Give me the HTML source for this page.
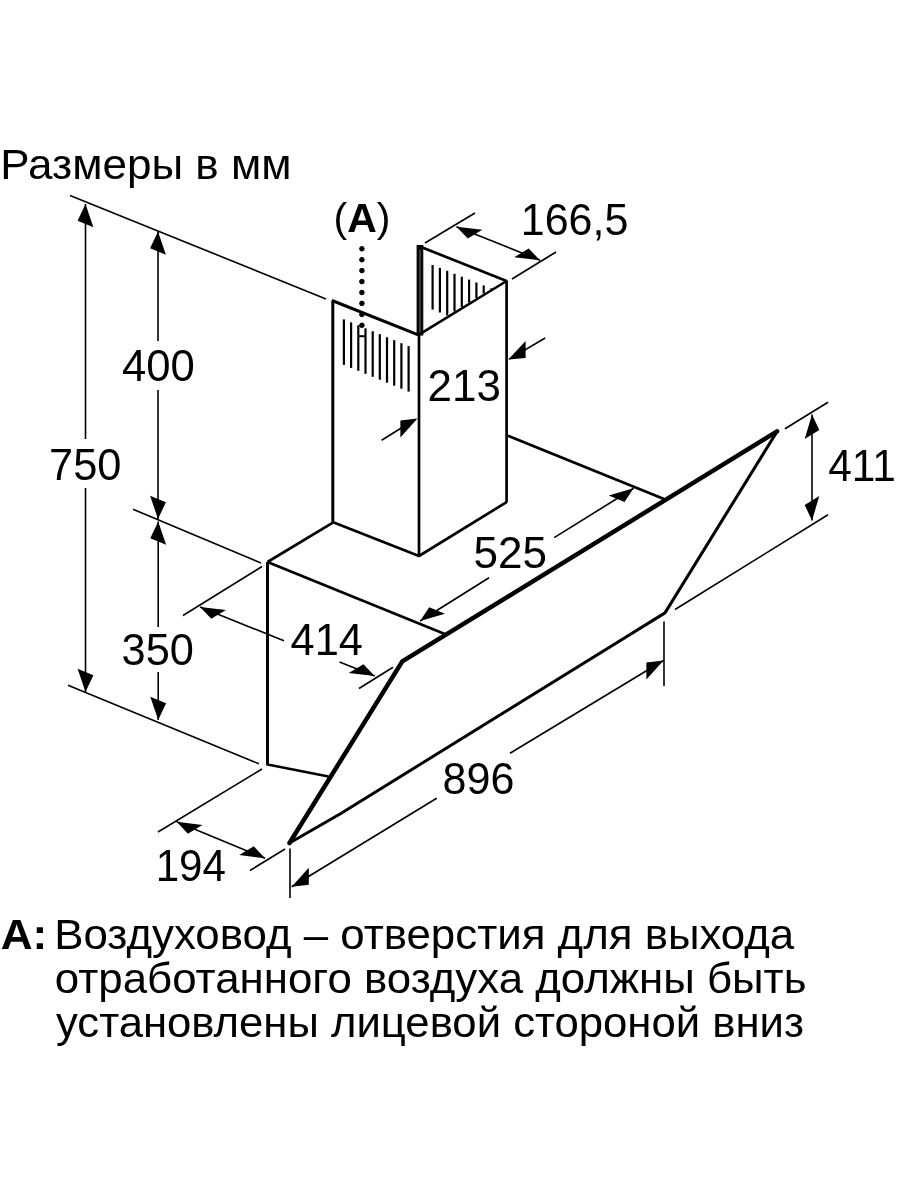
<!DOCTYPE html>
<html><head><meta charset="utf-8"><style>
html,body{margin:0;padding:0;background:#fff;width:900px;height:1200px;overflow:hidden}
svg{display:block;will-change:transform}
text{font-family:"Liberation Sans",sans-serif;fill:#000}
</style></head><body>
<svg width="900" height="1200" viewBox="0 0 900 1200">
<g stroke="#000" stroke-linecap="butt">
<line x1="70.0" y1="195.5" x2="326.0" y2="299.0" stroke-width="1.6" />
<line x1="133.0" y1="509.3" x2="261.0" y2="563.0" stroke-width="1.6" />
<line x1="68.0" y1="685.3" x2="259.0" y2="763.8" stroke-width="1.6" />
<line x1="183.0" y1="615.5" x2="262.0" y2="566.5" stroke-width="1.6" />
<line x1="359.0" y1="688.5" x2="393.0" y2="667.3" stroke-width="1.6" />
<line x1="158.0" y1="832.0" x2="262.0" y2="769.0" stroke-width="1.6" />
<line x1="250.0" y1="870.5" x2="285.0" y2="849.0" stroke-width="1.6" />
<line x1="290.0" y1="848.5" x2="290.0" y2="898.0" stroke-width="1.6" />
<line x1="664.0" y1="621.5" x2="664.0" y2="686.0" stroke-width="1.6" />
<line x1="785.0" y1="428.7" x2="828.0" y2="402.2" stroke-width="1.6" />
<line x1="675.0" y1="609.5" x2="828.0" y2="514.8" stroke-width="1.6" />
<line x1="425.0" y1="243.0" x2="475.0" y2="213.0" stroke-width="1.6" />
<line x1="512.0" y1="279.0" x2="556.0" y2="252.0" stroke-width="1.6" />
<line x1="85.5" y1="204.0" x2="85.5" y2="439.0" stroke-width="1.6" />
<line x1="85.5" y1="488.0" x2="85.5" y2="692.0" stroke-width="1.6" />
<polygon points="85.5,204.0 93.4,227.2 77.6,220.8" fill="#000" stroke="none"/>
<polygon points="85.5,692.0 93.4,675.2 77.6,668.8" fill="#000" stroke="none"/>
<line x1="158.0" y1="231.5" x2="158.0" y2="341.0" stroke-width="1.6" />
<line x1="158.0" y1="390.0" x2="158.0" y2="519.0" stroke-width="1.6" />
<polygon points="158.0,231.5 165.9,254.7 150.1,248.3" fill="#000" stroke="none"/>
<polygon points="158.0,519.0 165.9,502.2 150.1,495.8" fill="#000" stroke="none"/>
<line x1="158.2" y1="521.5" x2="158.2" y2="627.0" stroke-width="1.6" />
<line x1="158.2" y1="672.0" x2="158.2" y2="720.0" stroke-width="1.6" />
<polygon points="158.2,521.5 166.1,544.7 150.3,538.3" fill="#000" stroke="none"/>
<polygon points="158.2,720.0 166.1,703.2 150.3,696.8" fill="#000" stroke="none"/>
<line x1="812.0" y1="414.5" x2="812.0" y2="520.5" stroke-width="1.6" />
<polygon points="812.0,414.5 819.3,430.1 804.7,438.9" fill="#000" stroke="none"/>
<polygon points="812.0,520.5 819.3,496.1 804.7,504.9" fill="#000" stroke="none"/>
<line x1="200.0" y1="607.0" x2="284.0" y2="640.8" stroke-width="1.6" />
<line x1="339.5" y1="662.1" x2="374.7" y2="676.0" stroke-width="1.6" />
<polygon points="200.0,607.0 225.9,609.9 211.3,618.8" fill="#000" stroke="none"/>
<polygon points="374.7,676.0 363.4,664.2 348.8,673.1" fill="#000" stroke="none"/>
<line x1="176.7" y1="821.7" x2="265.0" y2="858.3" stroke-width="1.6" />
<polygon points="176.7,821.7 202.4,824.9 187.9,833.8" fill="#000" stroke="none"/>
<polygon points="265.0,858.3 253.8,846.2 239.3,855.1" fill="#000" stroke="none"/>
<line x1="291.7" y1="886.7" x2="436.7" y2="798.3" stroke-width="1.6" />
<line x1="510.0" y1="753.3" x2="663.5" y2="660.5" stroke-width="1.6" />
<polygon points="291.7,886.7 308.8,884.8 308.8,867.8" fill="#000" stroke="none"/>
<polygon points="663.5,660.5 646.4,679.4 646.4,662.4" fill="#000" stroke="none"/>
<line x1="420.1" y1="621.0" x2="489.0" y2="577.8" stroke-width="1.6" />
<line x1="554.2" y1="537.6" x2="633.6" y2="488.3" stroke-width="1.6" />
<polygon points="420.1,621.0 445.0,613.7 429.2,607.2" fill="#000" stroke="none"/>
<polygon points="633.6,488.3 624.5,502.1 608.7,495.6" fill="#000" stroke="none"/>
<line x1="456.5" y1="226.7" x2="540.0" y2="260.3" stroke-width="1.6" />
<polygon points="456.5,226.7 482.3,229.7 467.8,238.6" fill="#000" stroke="none"/>
<polygon points="540.0,260.3 528.7,248.4 514.2,257.3" fill="#000" stroke="none"/>
<line x1="381.6" y1="440.3" x2="415.4" y2="419.2" stroke-width="1.6" />
<polygon points="417.5,418.5 400.4,437.4 400.4,420.4" fill="#000" stroke="none"/>
<line x1="545.2" y1="338.0" x2="509.3" y2="359.1" stroke-width="1.6" />
<polygon points="508.3,359.5 525.6,357.9 525.6,340.9" fill="#000" stroke="none"/>
<line x1="332.8" y1="300.6" x2="332.8" y2="522.5" stroke-width="3" />
<line x1="419.0" y1="335.0" x2="419.0" y2="556.5" stroke-width="2.7" />
<line x1="506.6" y1="280.5" x2="506.6" y2="502.5" stroke-width="2.7" />
<line x1="332.0" y1="300.5" x2="419.5" y2="335.3" stroke-width="3.0" />
<polyline points="333.2,522.3 419,556 506.6,502.2" fill="none" stroke-width="2.7" stroke-linejoin="round"/>
<line x1="420.4" y1="246.8" x2="506.6" y2="281.0" stroke-width="2.8" />
<line x1="506.6" y1="281.0" x2="419.0" y2="334.6" stroke-width="2.6" />
<rect x="417.1" y="245.5" width="5.7" height="89.5" fill="#000"/>
<rect x="418.9" y="249" width="2.2" height="84" fill="#606060"/>
<line x1="343.9" y1="319.4" x2="343.9" y2="364.9" stroke-width="2.2" />
<line x1="351.1" y1="322.4" x2="351.1" y2="367.9" stroke-width="2.2" />
<line x1="358.3" y1="325.3" x2="358.3" y2="370.8" stroke-width="2.2" />
<line x1="365.5" y1="328.3" x2="365.5" y2="373.8" stroke-width="2.2" />
<line x1="372.7" y1="331.3" x2="372.7" y2="376.8" stroke-width="2.2" />
<line x1="379.8" y1="334.2" x2="379.8" y2="379.7" stroke-width="2.2" />
<line x1="387.0" y1="337.2" x2="387.0" y2="382.7" stroke-width="2.2" />
<line x1="394.2" y1="340.2" x2="394.2" y2="385.7" stroke-width="2.2" />
<line x1="401.4" y1="343.2" x2="401.4" y2="388.7" stroke-width="2.2" />
<line x1="408.6" y1="346.1" x2="408.6" y2="391.6" stroke-width="2.2" />
<line x1="432.6" y1="265.0" x2="432.6" y2="309.6" stroke-width="2.2" />
<line x1="439.9" y1="267.9" x2="439.9" y2="312.5" stroke-width="2.2" />
<line x1="447.2" y1="270.8" x2="447.2" y2="315.4" stroke-width="2.2" />
<line x1="454.5" y1="273.8" x2="454.5" y2="311.4" stroke-width="2.2" />
<line x1="461.8" y1="276.7" x2="461.8" y2="306.9" stroke-width="2.2" />
<line x1="469.1" y1="279.6" x2="469.1" y2="302.5" stroke-width="2.2" />
<line x1="476.4" y1="282.5" x2="476.4" y2="298.0" stroke-width="2.2" />
<line x1="483.7" y1="285.4" x2="483.7" y2="293.6" stroke-width="2.2" />
<line x1="491.0" y1="288.4" x2="491.0" y2="289.1" stroke-width="2.2" />
<circle cx="361.9" cy="248.8" r="2.3" fill="#000"/>
<circle cx="361.9" cy="259.7" r="2.3" fill="#000"/>
<circle cx="361.9" cy="270.6" r="2.3" fill="#000"/>
<circle cx="361.9" cy="281.6" r="2.3" fill="#000"/>
<circle cx="361.9" cy="292.5" r="2.3" fill="#000"/>
<circle cx="361.9" cy="303.4" r="2.3" fill="#000"/>
<circle cx="361.9" cy="314.4" r="2.3" fill="#000"/>
<circle cx="361.9" cy="325.3" r="2.3" fill="#000"/>
<line x1="358.0" y1="336.2" x2="365.6" y2="336.2" stroke-width="2.0" />
<line x1="267.5" y1="562.0" x2="333.3" y2="522.3" stroke-width="2.7" />
<line x1="267.5" y1="562.0" x2="446.0" y2="634.4" stroke-width="2.7" />
<line x1="267.5" y1="562.0" x2="267.5" y2="764.5" stroke-width="2.7" />
<polyline points="267.5,562 267.5,764.5 328.5,776.5" fill="none" stroke-width="2.7" stroke-linejoin="miter"/>
<line x1="508.0" y1="435.8" x2="664.0" y2="499.0" stroke-width="2.7" />
<polyline points="777.1,431.4 665,612.9 340,814 289.5,843" fill="none" stroke-width="3" stroke-linejoin="round" stroke-linecap="round"/>
<polyline points="289.5,843 402.3,661.4 777.1,431.4" fill="none" stroke-width="4.5" stroke-linejoin="round" stroke-linecap="round"/>
</g>
<text transform="translate(0.21,178.70) scale(1.0237,1)" font-size="43" font-weight="normal">Размеры в мм</text>
<text transform="translate(122.01,380.55) scale(0.9930,1)" font-size="44" font-weight="normal">400</text>
<text transform="translate(49.03,480.00) scale(0.9857,1)" font-size="44" font-weight="normal">750</text>
<text transform="translate(121.53,665.10) scale(0.9857,1)" font-size="44" font-weight="normal">350</text>
<text transform="translate(290.51,654.50) scale(0.9859,1)" font-size="44" font-weight="normal">414</text>
<text transform="translate(427.50,401.15) scale(1.0000,1)" font-size="44" font-weight="normal">213</text>
<text transform="translate(520.77,235.40) scale(0.9771,1)" font-size="44" font-weight="normal">166,5</text>
<text transform="translate(828.24,481.45) scale(0.9642,1)" font-size="44" font-weight="normal">411</text>
<text transform="translate(473.50,568.40) scale(1.0000,1)" font-size="44" font-weight="normal">525</text>
<text transform="translate(442.54,793.60) scale(0.9786,1)" font-size="44" font-weight="normal">896</text>
<text transform="translate(155.63,880.65) scale(0.9565,1)" font-size="44" font-weight="normal">194</text>
<text transform="translate(333.52,232.25) scale(1.0260,1)" font-size="40" font-weight="normal">(<tspan font-weight="bold">A</tspan>)</text>
<text transform="translate(0.67,949.30) scale(1.0275,1)" font-size="43" font-weight="bold">A:</text>
<text transform="translate(54.22,949.30) scale(1.0195,1)" font-size="43" font-weight="normal">Воздуховод – отверстия для выхода</text>
<text transform="translate(54.86,992.80) scale(1.0199,1)" font-size="43" font-weight="normal">отработанного воздуха должны быть</text>
<text transform="translate(56.00,1036.60) scale(1.0158,1)" font-size="43" font-weight="normal">установлены лицевой стороной вниз</text>
</svg>
</body></html>
